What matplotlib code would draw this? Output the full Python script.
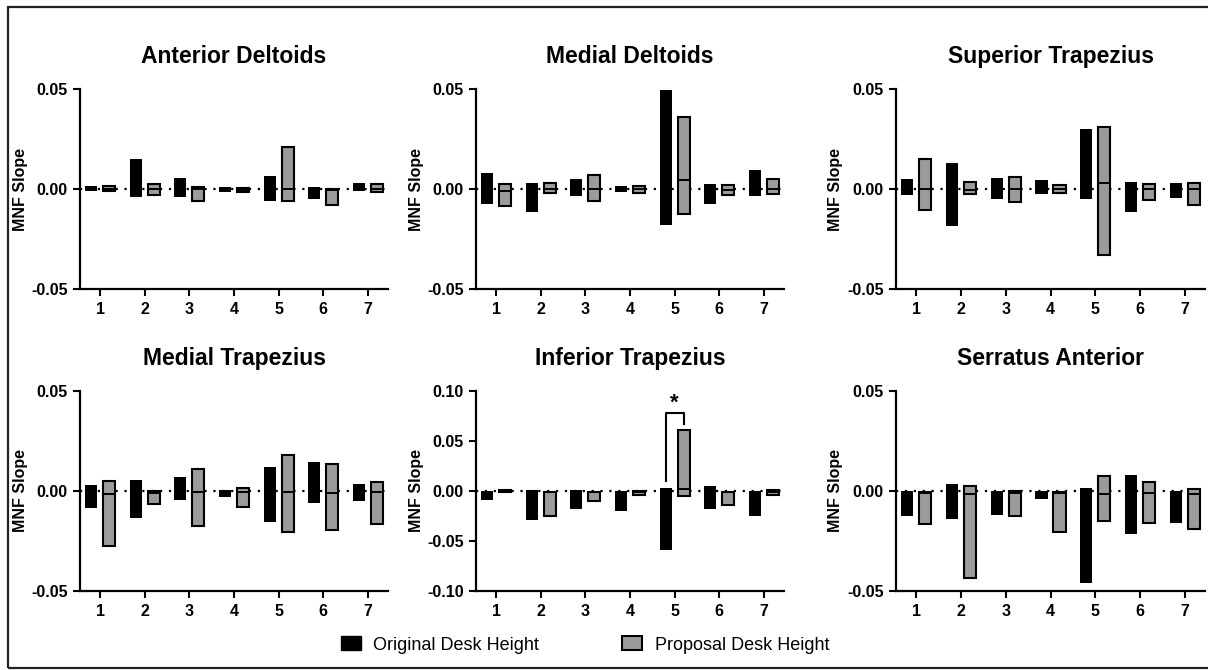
import matplotlib
matplotlib.use("Agg")
import matplotlib.pyplot as plt
from matplotlib.patches import Patch, Rectangle
import numpy as np

plt.rcParams["font.family"] = ["Liberation Sans", "DejaVu Sans"]

positions = [1, 2, 3, 4, 5, 6, 7]
tick_labels = ["1", "2", "3", "4", "5", "6", "7"]
titles = ["Anterior Deltoids", "Medial Deltoids", "Superior Trapezius",
          "Medial Trapezius", "Inferior Trapezius", "Serratus Anterior"]
series_labels = ["Original Desk Height", "Proposal Desk Height"]

# floating bars: min..max per participant, line at median (proposal)
ad_orig_max = [0.0017, 0.015, 0.0057, 0.0012, 0.0067, 0.0008, 0.0028]
ad_orig_min = [-0.0012, -0.0042, -0.0042, -0.0017, -0.006, -0.005, -0.0008]
ad_prop_max = [0.0013, 0.0023, 0.001, 0.0003, 0.021, 0.0, 0.0023]
ad_prop_min = [-0.001, -0.0028, -0.006, -0.0015, -0.006, -0.0078, -0.0015]
ad_prop_med = [0.0, 0.0, 0.0, -0.0005, 0.0, -0.0005, 0.0]

md_orig_max = [0.008, 0.003, 0.005, 0.0015, 0.0497, 0.0025, 0.0093]
md_orig_min = [-0.0075, -0.0115, -0.0033, -0.0017, -0.018, -0.0077, -0.0037]
md_prop_max = [0.0027, 0.0028, 0.007, 0.0017, 0.0358, 0.0018, 0.0052]
md_prop_min = [-0.0087, -0.0022, -0.006, -0.0022, -0.0125, -0.003, -0.0025]
md_prop_med = [-0.0008, 0.0, 0.0, 0.0, 0.0043, -0.0003, 0.0]

st_orig_max = [0.0048, 0.0128, 0.0053, 0.0047, 0.030, 0.0033, 0.0028]
st_orig_min = [-0.003, -0.0187, -0.0052, -0.0023, -0.0052, -0.0115, -0.0047]
st_prop_max = [0.0152, 0.0033, 0.006, 0.0018, 0.031, 0.0023, 0.003]
st_prop_min = [-0.0107, -0.0025, -0.0063, -0.0022, -0.0328, -0.0053, -0.0078]
st_prop_med = [0.0, -0.0005, 0.0, 0.0, 0.0032, 0.0, 0.0]

mt_orig_max = [0.0028, 0.0053, 0.007, 0.0007, 0.0122, 0.0143, 0.0037]
mt_orig_min = [-0.0083, -0.0135, -0.0043, -0.0028, -0.0155, -0.0058, -0.0048]
mt_prop_max = [0.0048, 0.0, 0.0108, 0.0017, 0.018, 0.0137, 0.0043]
mt_prop_min = [-0.0277, -0.0065, -0.0177, -0.008, -0.0203, -0.0195, -0.0165]
mt_prop_med = [-0.0013, -0.0008, -0.0003, -0.0003, -0.0003, -0.001, -0.0007]

it_orig_max = [0.0, 0.0013, 0.0013, 0.0, 0.003, 0.0047, 0.0]
it_orig_min = [-0.009, -0.0287, -0.0177, -0.02, -0.0593, -0.0177, -0.0253]
it_prop_max = [0.0007, -0.0007, -0.0007, 0.0, 0.0613, -0.0007, 0.0013]
it_prop_min = [-0.0013, -0.0253, -0.0097, -0.0037, -0.0047, -0.0137, -0.0037]
it_prop_med = [-0.0003, -0.001, -0.001, -0.001, 0.0023, -0.001, -0.001]

sa_orig_max = [0.0, 0.0033, 0.0, 0.0, 0.0013, 0.0082, 0.0]
sa_orig_min = [-0.0123, -0.014, -0.0122, -0.004, -0.046, -0.0215, -0.016]
sa_prop_max = [-0.0003, 0.0027, 0.0, -0.0003, 0.0077, 0.0043, 0.001]
sa_prop_min = [-0.0163, -0.0435, -0.0127, -0.0207, -0.0152, -0.016, -0.0188]
sa_prop_med = [-0.001, -0.0015, -0.0008, -0.001, -0.0013, -0.0008, -0.0013]

panels = [
    (ad_orig_min, ad_orig_max, ad_prop_min, ad_prop_max, ad_prop_med),
    (md_orig_min, md_orig_max, md_prop_min, md_prop_max, md_prop_med),
    (st_orig_min, st_orig_max, st_prop_min, st_prop_max, st_prop_med),
    (mt_orig_min, mt_orig_max, mt_prop_min, mt_prop_max, mt_prop_med),
    (it_orig_min, it_orig_max, it_prop_min, it_prop_max, it_prop_med),
    (sa_orig_min, sa_orig_max, sa_prop_min, sa_prop_max, sa_prop_med),
]

W, H = 1208, 670
fig = plt.figure(figsize=(W / 100, H / 100), dpi=100)

# axes boxes in pixels: left, right, top, bottom
col_x = [(80, 388), (476, 784), (896, 1205)]
row_y = [(89, 289), (391, 591)]

GREY = "#9b9b9b"
off, bw = 0.2, 0.27

for i, (omin, omax, pmin, pmax, pmed) in enumerate(panels):
    r, c = divmod(i, 3)
    x0, x1 = col_x[c]
    yt, yb = row_y[r]
    ax = fig.add_axes([x0 / W, 1 - yb / H, (x1 - x0) / W, (yb - yt) / H])
    x = np.array(positions, dtype=float)
    omin, omax = np.array(omin), np.array(omax)
    pmin, pmax = np.array(pmin), np.array(pmax)

    ax.hlines(0, 0.55, 7.45, colors="black", linestyles=(0, (1, 3)), lw=1.6, zorder=1)
    ax.bar(x - off, omax - omin, bottom=omin, width=bw, color="black", zorder=2)
    ax.bar(x + off, pmax - pmin, bottom=pmin, width=bw, color=GREY,
           edgecolor="black", linewidth=1.5, zorder=2)
    ax.hlines(pmed, x + off - bw / 2, x + off + bw / 2, colors="black", lw=1.4, zorder=3)

    ax.set_xlim(0.55, 7.45)
    if i == 4:
        ax.set_ylim(-0.1, 0.1)
        ax.set_yticks([-0.1, -0.05, 0.0, 0.05, 0.1])
        ax.set_yticklabels(["-0.10", "-0.05", "0.00", "0.05", "0.10"])
    else:
        ax.set_ylim(-0.05, 0.05)
        ax.set_yticks([-0.05, 0.0, 0.05])
        ax.set_yticklabels(["-0.05", "0.00", "0.05"])
    ax.set_xticks(positions)
    ax.set_xticklabels(tick_labels)

    for s in ["top", "right"]:
        ax.spines[s].set_visible(False)
    for s in ["left", "bottom"]:
        ax.spines[s].set_linewidth(1.6)
    ax.tick_params(width=1.5, length=5, labelsize=11.5, pad=4)
    for lab in ax.get_xticklabels() + ax.get_yticklabels():
        lab.set_fontweight("bold")

    ax.set_ylabel("MNF Slope", fontsize=11.5, fontweight="bold")
    ax.yaxis.set_label_coords(-0.17, 0.5)
    ax.set_title(titles[i], fontsize=16.5, fontweight="bold", pad=19)

    if i == 4:
        # significance bracket between groups at participant 5
        ax.plot([5 - off, 5 - off, 5 + off, 5 + off], [0.0097, 0.078, 0.078, 0.067],
                color="black", lw=1.5, zorder=4, clip_on=False)
        ax.text(5, 0.088, "*", ha="center", va="center", fontsize=16, fontweight="bold")

# outer frame
fig.patches.append(Rectangle((8 / W, 2 / H), 1.05, 661 / H, transform=fig.transFigure,
                             fill=False, edgecolor="#222222", lw=1.6, clip_on=False))

handles = [Patch(facecolor="black", edgecolor="black"),
           Patch(facecolor=GREY, edgecolor="black", linewidth=1.5)]
fig.legend(handles, series_labels, loc="center", bbox_to_anchor=(585 / W, 1 - 645 / H),
           ncol=2, frameon=False, fontsize=13, handlelength=1.1, handleheight=0.8,
           handletextpad=0.7, columnspacing=4.6)

fig.savefig("out.png", dpi=100)
